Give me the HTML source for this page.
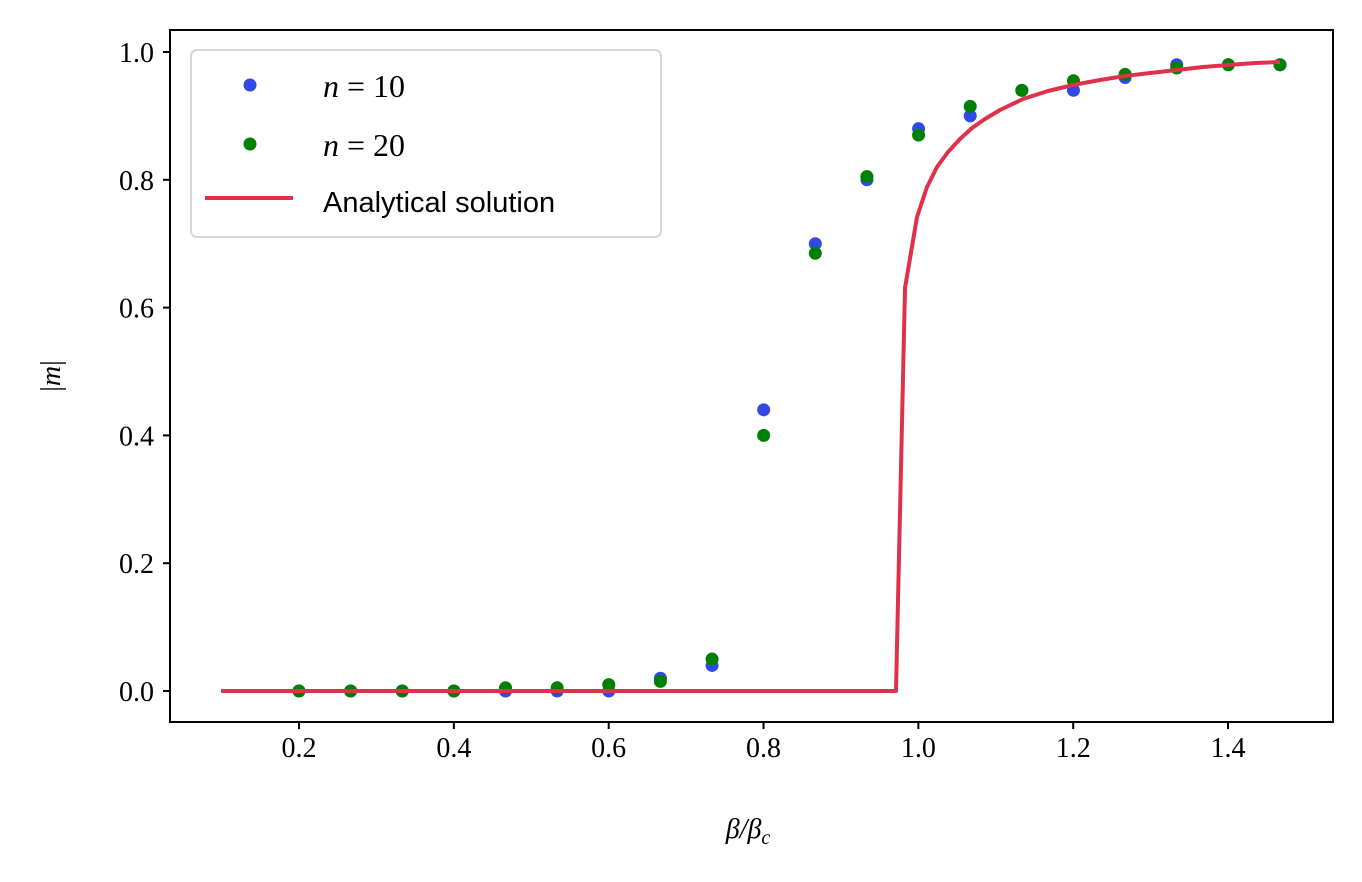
<!DOCTYPE html>
<html><head><style>body{margin:0;background:#fff}</style></head><body>
<svg width="1362" height="877" xmlns="http://www.w3.org/2000/svg">
<rect width="1362" height="877" fill="#fff"/>
<g id="dots"></g>
<polyline fill="none" stroke="#e0314b" stroke-width="4" stroke-linejoin="round" points="221,691 896,691 905,288 917,217 927,187 937,167 948,152 960,139 972,128 985,119 1000,110 1023,99 1048,91 1073,85 1100,80 1125,76 1150,73 1177,70 1203,67 1228,65 1255,63 1280,62"/>
<rect x="170" y="30" width="1163" height="692" fill="none" stroke="#000" stroke-width="2"/>
<g font-family="Liberation Serif, serif" font-size="28" fill="#000">
<g text-anchor="middle" id="xt"></g>
<g text-anchor="end" id="yt"></g>
<text x="748" y="838" text-anchor="middle" font-style="italic">β/β<tspan font-size="20" dy="6">c</tspan></text>
<text x="60" y="376" text-anchor="middle" transform="rotate(-90 60 376)">|<tspan font-style="italic">m</tspan>|</text>
</g>
<rect x="191" y="50" width="470" height="187" rx="6" fill="#fff" fill-opacity="0.8" stroke="#d6d6d6" stroke-width="2"/>
<circle cx="250" cy="85" r="6.5" fill="#3249e6"/>
<circle cx="250" cy="144" r="6.5" fill="#008000"/>
<line x1="205" y1="198" x2="293" y2="198" stroke="#e0314b" stroke-width="4"/>
<g font-family="Liberation Serif, serif" font-size="32"><text x="323" y="97"><tspan font-style="italic">n</tspan> = 10</text><text x="323" y="156"><tspan font-style="italic">n</tspan> = 20</text></g>
<text x="323" y="212" font-family="Liberation Sans, sans-serif" font-size="29">Analytical solution</text>
</svg>
<script>
const ns="http://www.w3.org/2000/svg";
const X=v=>299+(v-0.2)*774.2, Y=v=>691-639*v;
const b=[0,0,0,0,0,0,0,0.02,0.04,0.44,0.70,0.80,0.88,0.90,0.94,0.94,0.96,0.98,0.98,0.98];
const g=[0,0,0,0,0.005,0.005,0.01,0.015,0.05,0.40,0.685,0.805,0.87,0.915,0.94,0.955,0.965,0.975,0.98,0.98];
const d=document.getElementById('dots');
function c(x,y,f){const e=document.createElementNS(ns,'circle');e.setAttribute('cx',x);e.setAttribute('cy',y);e.setAttribute('r',6.5);e.setAttribute('fill',f);d.appendChild(e);}
const P=i=>299+i*981/19;
for(let i=0;i<20;i++){c(P(i),Y(b[i]),'#3249e6');}
for(let i=0;i<20;i++){c(P(i),Y(g[i]),'#008000');}
const svg=document.querySelector('svg');
function line(x1,y1,x2,y2){const e=document.createElementNS(ns,'line');e.setAttribute('x1',x1);e.setAttribute('y1',y1);e.setAttribute('x2',x2);e.setAttribute('y2',y2);e.setAttribute('stroke','#000');e.setAttribute('stroke-width',2);svg.appendChild(e);}
function t(p,x,y,s){const e=document.createElementNS(ns,'text');e.setAttribute('x',x);e.setAttribute('y',y);e.textContent=s;document.getElementById(p).appendChild(e);}
for(let k=1;k<=7;k++){const v=k*0.2,x=X(v);line(x,722,x,729);t('xt',x,757,v.toFixed(1));}
for(let k=0;k<=5;k++){const v=k*0.2,y=Y(v);line(163,y,170,y);t('yt',154,y+10,v.toFixed(1));}
</script>
</body></html>
